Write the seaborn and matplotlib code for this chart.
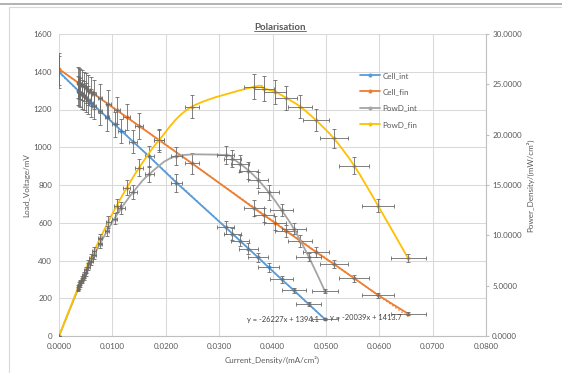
import numpy as np
import pandas as pd
import matplotlib
matplotlib.use('Agg')
import matplotlib.pyplot as plt
import seaborn as sns
from matplotlib.path import Path
from matplotlib.patches import PathPatch, Rectangle
from matplotlib.lines import Line2D
from matplotlib.ticker import FormatStrFormatter, MultipleLocator

sns.set_theme(style='white')
plt.rcParams['font.family'] = ['Lato', 'DejaVu Sans']

# readings
cur_int = [0, 0.0036, 0.0038, 0.0040, 0.0043, 0.0046, 0.0050, 0.0055, 0.0060, 0.0066,
           0.0077, 0.0090, 0.0104, 0.0117, 0.0139, 0.0169, 0.0220, 0.0312, 0.0325,
           0.0339, 0.0355, 0.0373, 0.0393, 0.0417, 0.0440, 0.0468, 0.0498]
volt_int = [1400, 1300, 1294, 1289, 1281, 1273, 1263, 1250, 1237, 1221,
            1192, 1158, 1121, 1087, 1029, 951, 812, 576, 542,
            505, 463, 416, 363, 300, 242, 168, 90]
pow_int = [0, 4.68, 4.92, 5.16, 5.51, 5.86, 6.32, 6.88, 7.42, 8.06,
           9.18, 10.42, 11.66, 12.72, 14.30, 16.07, 17.86, 17.97, 17.62,
           17.12, 16.44, 15.52, 14.27, 12.51, 10.65, 7.86, 4.48]

cur_fin = [0, 0.0036, 0.0038, 0.0040, 0.0043, 0.0046, 0.0050, 0.0055, 0.0060, 0.0066,
           0.0077, 0.0092, 0.0108, 0.0127, 0.0150, 0.0188, 0.0249, 0.0365, 0.0384,
           0.0405, 0.0425, 0.0452, 0.0481, 0.0515, 0.0553, 0.0598, 0.0654]
volt_fin = [1414, 1342, 1338, 1334, 1328, 1322, 1314, 1304, 1294, 1282,
            1259, 1229, 1197, 1159, 1113, 1037, 915, 678, 640,
            599, 557, 504, 446, 381, 306, 216, 118]
pow_fin = [0, 4.83, 5.08, 5.34, 5.71, 6.08, 6.57, 7.17, 7.76, 8.46,
           9.69, 11.31, 12.93, 14.72, 16.70, 19.50, 22.78, 24.75, 24.58,
           24.26, 23.67, 22.78, 21.45, 19.62, 16.92, 12.92, 7.72]

trend_labels = ['y = -26227x + 1394.1', 'y = -20039x + 1413.7']
series_names = ['Cell_int', 'Cell_fin', 'PowD_int', 'PowD_fin']

# excel style percentage error bars
ERR_X = 0.05
ERR_V = 0.06
ERR_P = 0.05

BLUE, ORANGE, GREY, YELLOW = '#5B9BD5', '#ED7D31', '#A5A5A5', '#FFC000'
ECOL = '#6a6a6a'
TXT = '#595959'
FS = 5.8

df_int = pd.DataFrame({'cur': cur_int, 'volt': volt_int, 'pow': pow_int})
df_fin = pd.DataFrame({'cur': cur_fin, 'volt': volt_fin, 'pow': pow_fin})


def smooth_path(xs, ys):
    # bezier through the points, like excel's "smoothed line"
    pts = np.column_stack([xs, ys]).astype(float)
    n = len(pts)
    verts = [pts[0]]
    codes = [Path.MOVETO]
    for i in range(n - 1):
        p0 = pts[max(i - 1, 0)]
        p1 = pts[i]
        p2 = pts[i + 1]
        p3 = pts[min(i + 2, n - 1)]
        verts += [p1 + (p2 - p0) / 6, p2 - (p3 - p1) / 6, p2]
        codes += [Path.CURVE4] * 3
    return Path(verts, codes)


fig, ax = plt.subplots(figsize=(5.62, 3.73), dpi=100)
pos = [59 / 562, 1 - 336 / 373, 427 / 562, 302 / 373]
ax.set_position(pos)
ax2 = ax.twinx()
ax2.set_position(pos)

# cell voltages (left axis)
for d, c in [(df_int, BLUE), (df_fin, ORANGE)]:
    sns.lineplot(data=d, x='cur', y='volt', ax=ax, color=c, lw=1.3, marker='o',
                 markersize=2.9, markeredgewidth=0, sort=False, errorbar=None, zorder=2)
    sns.regplot(data=d, x='cur', y='volt', ax=ax, scatter=False, ci=None, color=c,
                line_kws={'ls': ':', 'lw': 1.0, 'zorder': 1.5})
    ax.errorbar(d['cur'], d['volt'], xerr=d['cur'] * ERR_X, yerr=d['volt'] * ERR_V,
                fmt='none', ecolor=ECOL, elinewidth=0.6, capsize=1.3, capthick=0.6, zorder=3)

# power density (right axis)
for d, c in [(df_int, GREY), (df_fin, YELLOW)]:
    ax2.add_patch(PathPatch(smooth_path(d['cur'], d['pow']), fill=False, edgecolor=c,
                            lw=1.3, transform=ax2.transData, zorder=2))
    sns.scatterplot(data=d, x='cur', y='pow', ax=ax2, color=c, s=8.5, linewidth=0, zorder=3)
    ax2.errorbar(d['cur'], d['pow'], xerr=d['cur'] * ERR_X, yerr=d['pow'] * ERR_P,
                 fmt='none', ecolor=ECOL, elinewidth=0.6, capsize=1.3, capthick=0.6, zorder=4)

ax.set_xlim(0, 0.08)
ax.set_ylim(0, 1600)
ax2.set_ylim(0, 30)
ax.xaxis.set_major_locator(MultipleLocator(0.01))
ax.yaxis.set_major_locator(MultipleLocator(200))
ax2.yaxis.set_major_locator(MultipleLocator(5))
ax.xaxis.set_major_formatter(FormatStrFormatter('%.4f'))
ax2.yaxis.set_major_formatter(FormatStrFormatter('%.4f'))

ax.grid(True, color='#d9d9d9', lw=0.75)
for s in ['top', 'left', 'right']:
    ax.spines[s].set_visible(False)
for s in ['top', 'left', 'bottom']:
    ax2.spines[s].set_visible(False)
ax.spines['bottom'].set_color('#bfbfbf')
ax.spines['bottom'].set_linewidth(0.8)
ax2.spines['right'].set_color('#bfbfbf')
ax2.spines['right'].set_linewidth(0.8)

ax.tick_params(axis='both', length=0, labelsize=FS, labelcolor=TXT, pad=5)
ax2.tick_params(axis='y', length=2.5, width=0.8, color='#bfbfbf', labelsize=FS,
                labelcolor=TXT, pad=2)

ax.set_xlabel('Current_Density/(mA/cm²)', fontsize=FS, color=TXT)
ax.set_ylabel('Load_Voltage/mV', fontsize=FS, color=TXT)
ax2.set_ylabel('Power_Density/(mW/cm²)', fontsize=FS, color=TXT, rotation=90)
ax.xaxis.label.set_va('center')
ax.yaxis.label.set_va('center')
ax2.yaxis.label.set_va('center')
ax.xaxis.set_label_coords(0.5, (336 - 360) / 302)
ax.yaxis.set_label_coords((27 - 59) / 427, 0.5)
ax2.yaxis.set_label_coords((530 - 59) / 427, 0.5)

# trendline equations
ax.text(0.0352, 88, trend_labels[0], fontsize=5.4, color='#404040', va='center')
ax.text(0.0508, 99, trend_labels[1], fontsize=5.4, color='#404040', va='center')

handles = [Line2D([0], [0], color=c, lw=1.3, marker='o', ms=2.9, mew=0)
           for c in [BLUE, ORANGE, GREY, YELLOW]]
ax2.legend(handles, series_names, loc='upper left', bbox_to_anchor=(360 / 562, 1 - 72 / 373),
           bbox_transform=fig.transFigure, frameon=False, fontsize=FS, labelcolor=TXT,
           handlelength=2.5, handletextpad=0.3, labelspacing=1.15, borderpad=0,
           borderaxespad=0, numpoints=1)

# title with underline
title = fig.text(280 / 562, 1 - 27 / 373, 'Polarisation', ha='center', va='center',
                 fontsize=6.9, fontweight='bold', color=TXT)
fig.canvas.draw()
bb = title.get_window_extent().transformed(fig.transFigure.inverted())
fig.add_artist(Line2D([bb.x0, bb.x1], [bb.y0 + 0.6 / 373] * 2, color=TXT, lw=0.6,
                      transform=fig.transFigure))

# chart area frame
fig.add_artist(Line2D([0, 1], [1 - 4 / 373] * 2, color='#a6a6a6', lw=1.2,
                      transform=fig.transFigure))
fig.add_artist(Rectangle((9 / 562, -0.1), 1.2, 1 - 7 / 373 + 0.1, fill=False,
                         ec='#d9d9d9', lw=0.8, transform=fig.transFigure))

fig.savefig('out.png', dpi=100)
